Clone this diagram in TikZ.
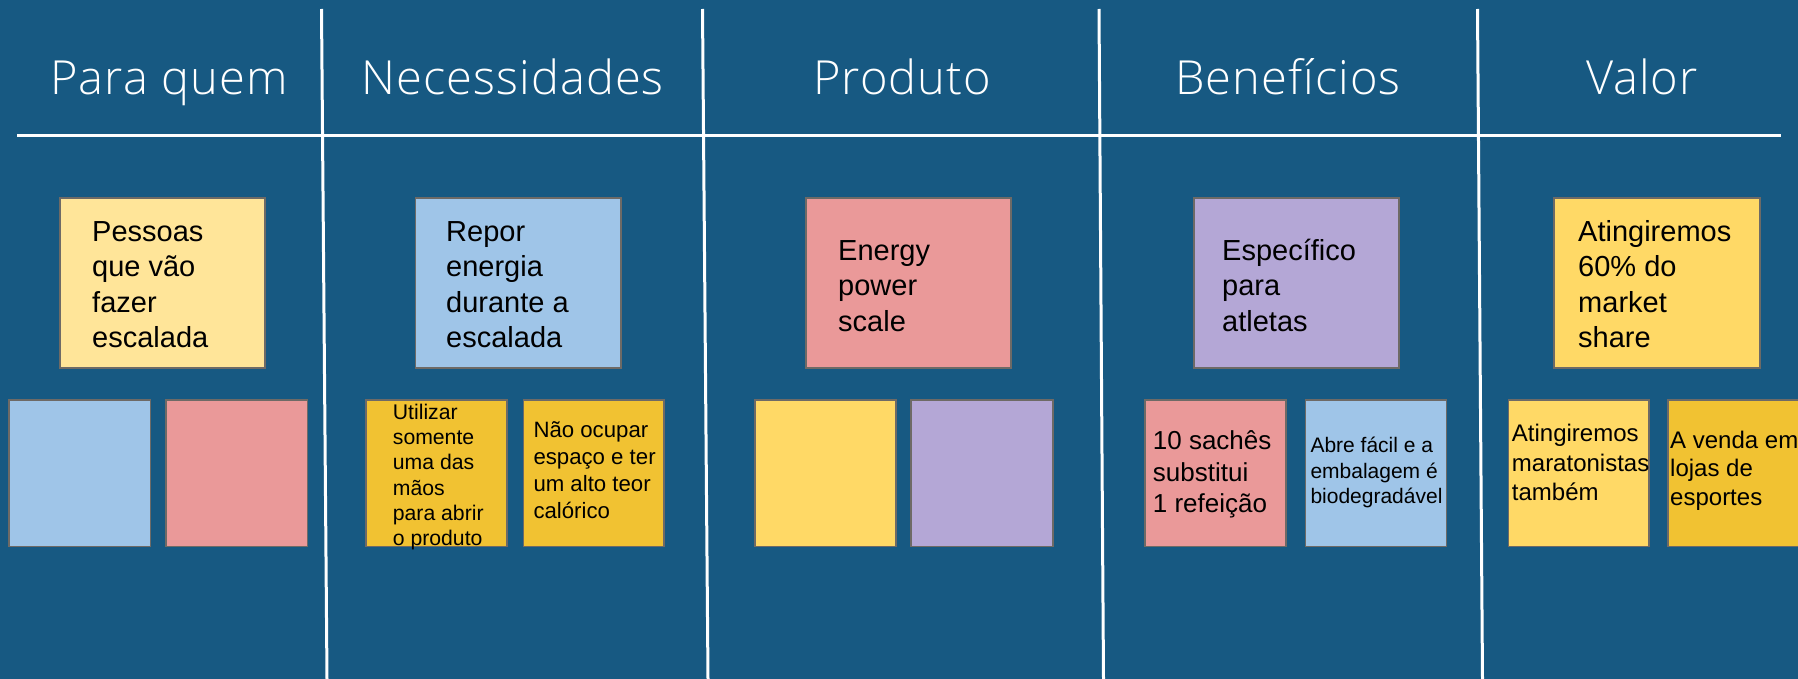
\documentclass[tikz,border=0pt]{standalone}
\usepackage{fontspec}
\setmainfont{Liberation Sans}
\newfontfamily\headfont[LetterSpace=2.2]{Open Sans Light}
\definecolor{bgblue}{HTML}{175982}
\definecolor{paleyellow}{HTML}{FFE599}
\definecolor{lightblue}{HTML}{9FC5E8}
\definecolor{lightpink}{HTML}{EA9999}
\definecolor{lightpurple}{HTML}{B4A7D6}
\definecolor{sunyellow}{HTML}{FFD966}
\definecolor{goldyellow}{HTML}{F1C232}
\definecolor{stickyedge}{HTML}{6E6A66}
\newcommand{\stickytext}[3]{\parbox[t]{300bp}{\raggedright\fontsize{#1bp}{#2bp}\selectfont #3}}
\begin{document}
\begin{tikzpicture}[x=1bp,y=-1bp,
  divider/.style={draw=white,line width=3bp},
  sticky/.style={draw=stickyedge,line width=1.5bp},
  heading/.style={text=white,anchor=base,inner sep=0,font=\headfont\fontsize{47bp}{56bp}\selectfont},
  notetext/.style={anchor=base west,inner sep=0,text=black}]
\useasboundingbox (0,0) rectangle (1798,679);
\fill[bgblue] (0,0) rectangle (1798,679);
% dividers
\coordinate (h1) at (17,136);
\coordinate (h2) at (1781,136);
\draw[divider] (h1) -- (h2);
\coordinate (v1t) at (321.5,9); \coordinate (v1b) at (327,679);
\coordinate (v2t) at (702.5,9); \coordinate (v2b) at (708,679);
\coordinate (v3t) at (1099,9); \coordinate (v3b) at (1103.5,679);
\coordinate (v4t) at (1477.5,9); \coordinate (v4b) at (1482.5,679);
\draw[divider] (v1t) -- (v1b);
\draw[divider] (v2t) -- (v2b);
\draw[divider] (v3t) -- (v3b);
\draw[divider] (v4t) -- (v4b);
% headings
\node[heading] (t1) at (169,95) {Para quem};
\node[heading] (t2) at (512.7,95) {Necessidades};
\node[heading] (t3) at (902,95) {Produto};
\node[heading] (t4) at (1288,95) {Benefícios};
\node[heading] (t5) at (1642,95) {Valor};
% top notes
\draw[sticky,fill=paleyellow] (60,198) rectangle (265,368);
\draw[sticky,fill=lightblue] (415.5,198) rectangle (621,368);
\draw[sticky,fill=lightpink] (806,198) rectangle (1011,368);
\draw[sticky,fill=lightpurple] (1194,198) rectangle (1399,368);
\draw[sticky,fill=sunyellow] (1554,198) rectangle (1760,368);
% bottom notes
\draw[sticky,fill=lightblue] (9,400) rectangle (150.5,546.5);
\draw[sticky,fill=lightpink] (166,400) rectangle (307.5,546.5);
\draw[sticky,fill=goldyellow] (366,400) rectangle (507,546.5);
\draw[sticky,fill=goldyellow] (523.5,400) rectangle (664,546.5);
\draw[sticky,fill=sunyellow] (755,400) rectangle (896,546.5);
\draw[sticky,fill=lightpurple] (911,400) rectangle (1053,546.5);
\draw[sticky,fill=lightpink] (1145,400) rectangle (1286,546.5);
\draw[sticky,fill=lightblue] (1305.5,400) rectangle (1446.5,546.5);
\draw[sticky,fill=sunyellow] (1508.5,400) rectangle (1649,546.5);
\draw[sticky,fill=goldyellow] (1668,400) rectangle (1815,546.5);
% texts
\node[notetext] (n1) at (92,241.7) {\stickytext{29}{35.2}{Pessoas\\que vão\\fazer\\escalada}};
\node[notetext] (n2) at (446,241.7) {\stickytext{29}{35.2}{Repor\\energia\\durante a\\escalada}};
\node[notetext] (n3) at (838,260) {\stickytext{29}{35.5}{Energy\\power\\scale}};
\node[notetext] (n4) at (1222,260) {\stickytext{29}{35.5}{Específico\\para\\atletas}};
\node[notetext] (n5) at (1578,241.7) {\stickytext{29}{35.2}{Atingiremos\\60\% do\\market\\share}};
\node[notetext] (n6) at (392.7,419.3) {\stickytext{21.2}{25.3}{Utilizar\\somente\\uma das\\mãos\\para abrir\\o produto}};
\node[notetext] (n7) at (533.3,437.3) {\stickytext{22.2}{27}{Não ocupar\\espaço e ter\\um alto teor\\calórico}};
\node[notetext] (n8) at (1152.7,449.3) {\stickytext{26}{31.7}{10 sachês\\substitui\\1 refeição}};
\node[notetext] (n9) at (1310.3,452.7) {\stickytext{21}{25.3}{Abre fácil e a\\embalagem é\\biodegradável}};
\node[notetext] (n10) at (1511.7,441.7) {\stickytext{24}{29.3}{Atingiremos\\maratonistas\\também}};
\node[notetext] (n11) at (1670,448.3) {\stickytext{24}{28.5}{A venda em\\lojas de\\esportes}};
\end{tikzpicture}
\end{document}
